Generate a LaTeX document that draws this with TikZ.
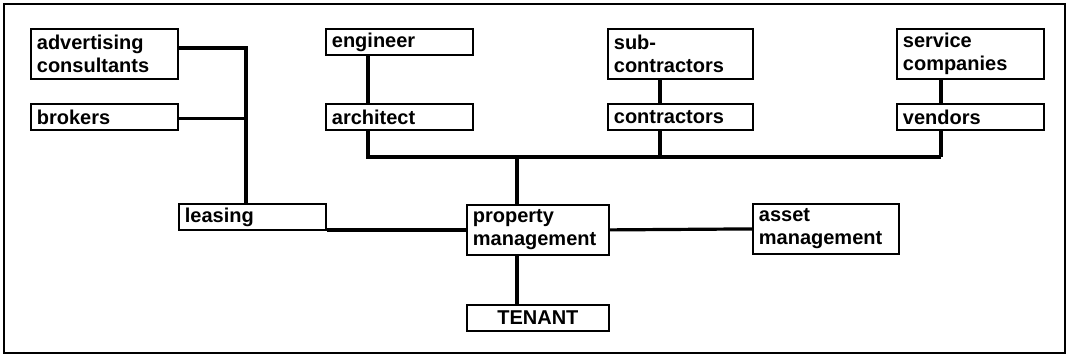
\documentclass[tikz,border=0pt]{standalone}
\usepackage{fontspec}
\setmainfont{Liberation Sans}
\usetikzlibrary{calc}

\begin{document}
\begin{tikzpicture}[
      x=0.5pt,y=-0.5pt,
      font=\bfseries\fontsize{10}{11.4}\selectfont,
      box/.style={draw=black,line width=0.9pt,anchor=north west,align=left,inner xsep=3pt,inner ysep=0pt,text width=67.5pt,minimum height=13pt},
      tall/.style={box,minimum height=25pt},
      link/.style={line width=1.6pt,black}
    ]
      \useasboundingbox (0,0) rectangle (1071,358);
      \draw[line width=1.1pt] (4,4) rectangle (1065,353);
      % upper row
      \node[tall] (adv) at (30,28) {advertising\\consultants};
      \node[box] (brokers) at (30,103) {brokers};
      \node[box] (engineer) at (325,28) {engineer};
      \node[box] (architect) at (325,103) {architect};
      \node[tall,text width=66.5pt] (subcon) at (607,28) {sub-\\contractors};
      \node[box,text width=66.5pt] (contractors) at (607,103) {contractors};
      \node[tall] (service) at (896,28) {service\\companies};
      \node[box] (vendors) at (896,103) {vendors};
      % middle and lower row
      \node[box] (leasing) at (178,203) {leasing};
      \node[tall,text width=65pt] (prop) at (466,204) {property\\management};
      \node[tall,text width=67pt] (asset) at (752,203) {asset\\management};
      \node[box,text width=65pt,align=center] (tenant) at (466,304) {TENANT};
      % bus points
      \coordinate (ltop) at (246,48);
      \coordinate (abus) at (368,157);
      \coordinate (cbus) at (517,157);
      \coordinate (cvc) at (660,157);
      \coordinate (vbus) at (941,157);
      \draw[link] (adv.east |- ltop) -- (ltop) -- (ltop |- leasing.north);
      \draw[link] ([yshift=-1pt]brokers.east) -- ([yshift=-1pt]brokers.east -| ltop);
      \draw[link] (engineer.south -| abus) -- (architect.north -| abus);
      \draw[link] (architect.south -| abus) -- (abus) -- (vbus);
      \draw[link] (subcon.south -| cvc) -- (contractors.north -| cvc);
      \draw[link] (contractors.south -| cvc) -- (cvc);
      \draw[link] (service.south -| vbus) -- (vendors.north -| vbus);
      \draw[link] (vendors.south -| vbus) -- (vbus);
      \draw[link] (cbus) -- (prop.north -| cbus);
      \draw[link] (prop.south -| cbus) -- (tenant.north -| cbus);
      \draw[link] (leasing.east |- prop.west) -- (prop.west);
      \draw[link] (prop.east) -- (asset.west);
    \end{tikzpicture}
\end{document}
